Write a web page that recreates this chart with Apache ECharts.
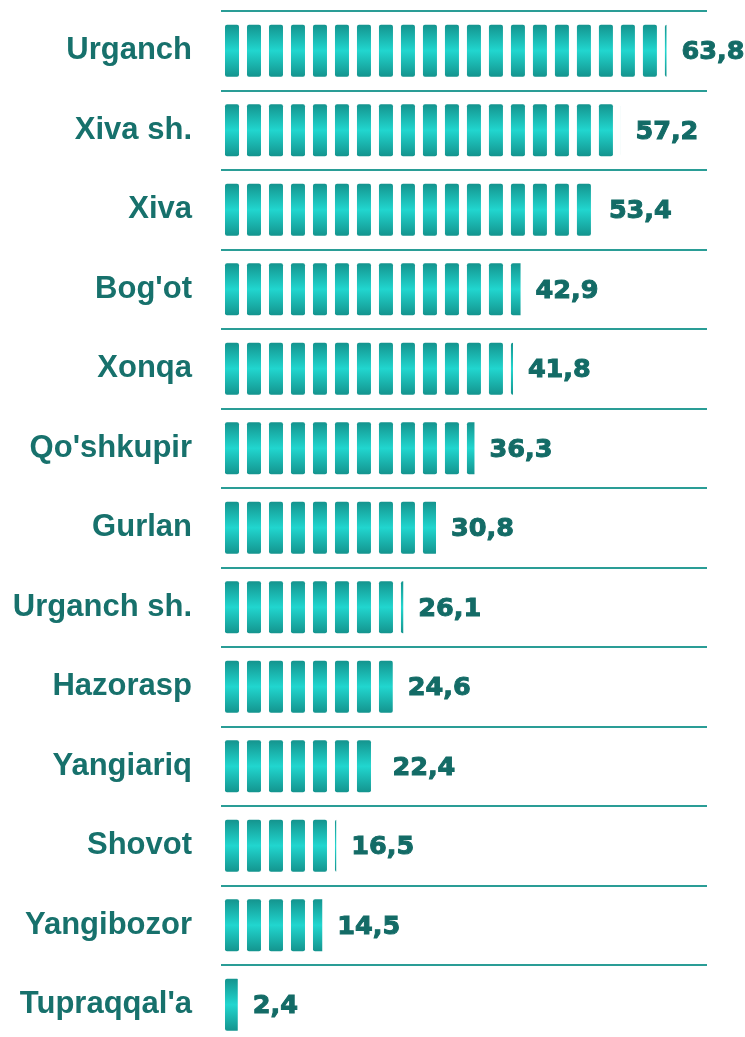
<!DOCTYPE html>
<html>
<head>
<meta charset="utf-8">
<script src="https://cdn.jsdelivr.net/npm/echarts@6/dist/echarts.min.js"></script>
<style>
html,body{margin:0;padding:0;background:#fff;}
#chart{width:745px;height:1037px;}
</style>
</head>
<body>
<div id="chart"></div>
<script>
const categories = ["Urganch","Xiva sh.","Xiva","Bog'ot","Xonqa","Qo'shkupir","Gurlan","Urganch sh.","Hazorasp","Yangiariq","Shovot","Yangibozor","Tupraqqal'a"];
const values = [63.8,57.2,53.4,42.9,41.8,36.3,30.8,26.1,24.6,22.4,16.5,14.5,2.4];
const valueLabels = ["63,8","57,2","53,4","42,9","41,8","36,3","30,8","26,1","24,6","22,4","16,5","14,5","2,4"];

const X_MAX = 69.6;
const BOUND = X_MAX * 483.9 / 486;

const chart = echarts.init(document.getElementById('chart'), null, {renderer:'canvas'});
chart.setOption({
  animation: false,
  backgroundColor: '#ffffff',
  grid: {left: 221, right: 38, top: 11, height: 1033.5, outerBoundsMode: 'none', containLabel: false},
  xAxis: {type: 'value', min: 0, max: X_MAX, show: false},
  yAxis: {
    type: 'category',
    inverse: true,
    data: categories,
    axisLine: {show: false},
    axisTick: {show: false},
    axisLabel: {
      margin: 29,
      color: '#17716c',
      fontFamily: 'Liberation Sans, Arial, sans-serif',
      fontWeight: 'bold',
      fontSize: 31
    },
    splitLine: {show: true, lineStyle: {color: '#2a9d96', width: 2}}
  },
  series: [{
    type: 'pictorialBar',
    data: values,
    symbol: 'path://M2,0 H12 Q14,0 14,2 V50 Q14,52 12,52 H2 Q0,52 0,50 V2 Q0,0 2,0 Z',
    symbolSize: [14, 52],
    symbolRepeat: 'fixed',
    symbolMargin: '4!',
    symbolClip: true,
    symbolBoundingData: BOUND,
    symbolPosition: 'start',
    z: 3,
    itemStyle: {
      color: {
        type: 'linear', x: 0, y: 0, x2: 0, y2: 1,
        colorStops: [
          {offset: 0, color: '#14948e'},
          {offset: 0.5, color: '#21d6cf'},
          {offset: 1, color: '#14948e'}
        ]
      }
    }
  }, {
    type: 'bar',
    data: values,
    barWidth: 52,
    barGap: '-100%',
    itemStyle: {color: 'rgba(0,0,0,0)'},
    z: 1,
    label: {
      show: true,
      position: 'right',
      distance: 15,
      offset: [0, 2],
      formatter: p => valueLabels[p.dataIndex],
      color: '#136b66',
      fontFamily: 'DejaVu Sans, sans-serif',
      fontWeight: 'bold',
      fontSize: 25.5,
      textBorderColor: '#136b66',
      textBorderWidth: 1
    }
  }]
});
</script>
</body>
</html>
